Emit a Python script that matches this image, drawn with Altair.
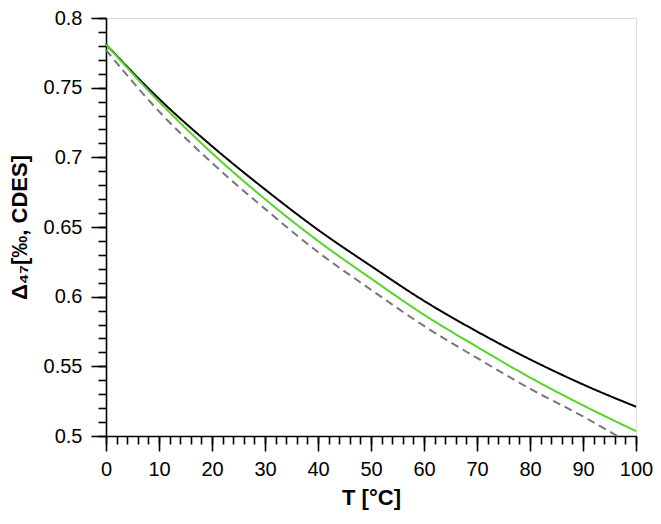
import altair as alt
import pandas as pd

# Temperature readings (°C) and Δ47 values
t_main = [0, 10, 20, 30, 40, 50, 60, 70, 80, 90, 100]
black_vals = [0.781, 0.742, 0.708, 0.677, 0.648, 0.622, 0.597, 0.575, 0.555, 0.537, 0.521]
green_vals = [0.781, 0.740, 0.703, 0.670, 0.640, 0.613, 0.587, 0.564, 0.542, 0.522, 0.5035]
t_dash = [0, 10, 20, 30, 40, 50, 60, 70, 80, 90, 96.5]
dash_vals = [0.777, 0.733, 0.696, 0.663, 0.632, 0.605, 0.579, 0.556, 0.534, 0.514, 0.500]

series_names = ["dashed", "black", "green"]
series_colors = ["#777777", "#000000", "#55d42a"]

rows = []
for t, v in zip(t_dash, dash_vals):
    rows.append({"T": t, "D47": v, "series": "dashed", "order": 0})
for t, v in zip(t_main, black_vals):
    rows.append({"T": t, "D47": v, "series": "black", "order": 1})
for t, v in zip(t_main, green_vals):
    rows.append({"T": t, "D47": v, "series": "green", "order": 2})
df = pd.DataFrame(rows)

x_major = list(range(0, 101, 10))
x_minor = list(range(0, 101, 2))
y_major = [round(0.5 + 0.05 * i, 2) for i in range(7)]
y_minor = [round(0.5 + 0.01 * i, 2) for i in range(31)]

FONT = "Liberation Sans"
xs = alt.Scale(domain=[0, 100], nice=False)
ys = alt.Scale(domain=[0.5, 0.8], nice=False, zero=False)

common_axis = dict(
    domainColor="black",
    domainWidth=1.6,
    tickColor="black",
    tickWidth=1.6,
    grid=False,
)

x_axis_major = alt.Axis(
    orient="bottom",
    values=x_major,
    tickSize=15,
    labelPadding=8,
    labelFontSize=20,
    labelFont=FONT,
    labelColor="black",
    labelOverlap=False,
    labelBound=False,
    labelFlush=False,
    title="T [°C]",
    titleFont=FONT,
    titleFontSize=22,
    titleFontWeight="bold",
    titleColor="black",
    titlePadding=8,
    **common_axis,
)
y_axis_major = alt.Axis(
    orient="left",
    values=y_major,
    format=".2~f",
    tickSize=15,
    labelPadding=9,
    labelFontSize=20,
    labelFont=FONT,
    labelColor="black",
    labelOverlap=False,
    labelBound=False,
    labelFlush=False,
    title="Δ₄₇[‰, CDES]",
    titleFont=FONT,
    titleFontSize=22,
    titleFontWeight="bold",
    titleColor="black",
    titlePadding=12,
    **common_axis,
)
x_axis_minor = alt.Axis(
    orient="bottom", values=x_minor, tickSize=8, labels=False, title=None, domain=False,
    tickColor="black", tickWidth=1.6, grid=False,
)
y_axis_minor = alt.Axis(
    orient="left", values=y_minor, tickSize=8, labels=False, title=None, domain=False,
    tickColor="black", tickWidth=1.6, grid=False,
)

lines = (
    alt.Chart(df)
    .mark_line(interpolate="monotone", strokeWidth=2)
    .encode(
        x=alt.X("T:Q", scale=xs, axis=x_axis_major),
        y=alt.Y("D47:Q", scale=ys, axis=y_axis_major),
        color=alt.Color("series:N", scale=alt.Scale(domain=series_names, range=series_colors), legend=None),
        strokeDash=alt.StrokeDash(
            "series:N",
            scale=alt.Scale(domain=series_names, range=[[8, 5], [1, 0], [1, 0]]),
            legend=None,
        ),
        order=alt.Order("order:Q"),
        detail="series:N",
    )
)

minor = (
    alt.Chart(df)
    .mark_line(opacity=0)
    .encode(
        x=alt.X("T:Q", scale=xs, axis=x_axis_minor),
        y=alt.Y("D47:Q", scale=ys, axis=y_axis_minor),
        detail="series:N",
    )
)

chart = (
    alt.layer(minor, lines)
    .resolve_axis(x="independent", y="independent")
    .properties(
        width=530,
        height=418,
        autosize=alt.AutoSizeParams(type="none"),
        padding={"left": 98, "top": 10, "right": 17, "bottom": 78},
    )
    .configure_view(stroke="black", strokeWidth=1.6)
    .configure(background="white")
)

chart.save("out.html", embed_options={"renderer": "svg", "actions": False})
